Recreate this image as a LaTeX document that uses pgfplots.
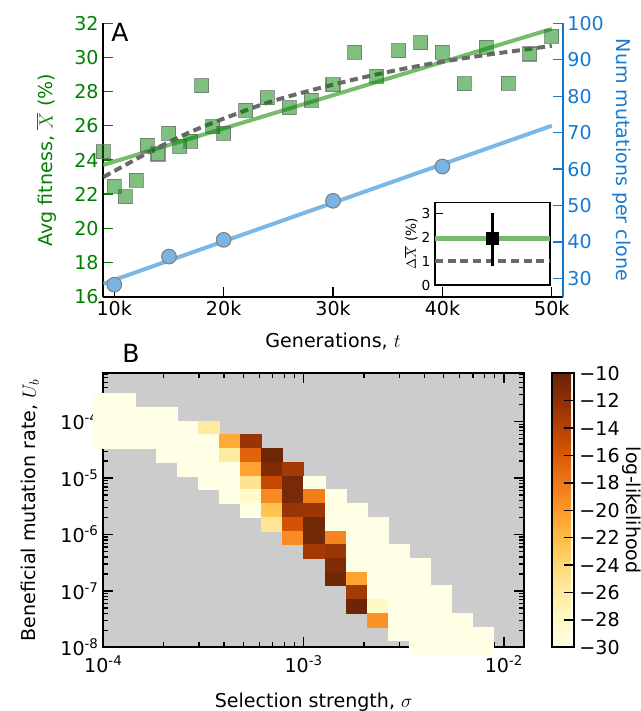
\documentclass[border=0pt]{standalone}
\usepackage{pgfplots}
\pgfplotsset{compat=1.18}
\usepackage{pgfplotstable}
\usepackage{fontspec}
\setmainfont{DejaVu Sans}

\definecolor{fitgreen}{RGB}{0,128,0}
\definecolor{sqedge}{RGB}{100,110,100}
\definecolor{linegreen}{RGB}{118,188,108}
\definecolor{numblue}{RGB}{22,122,208}
\definecolor{ptblue}{RGB}{122,180,228}
\definecolor{lineblue}{RGB}{124,184,230}
\definecolor{dashgray}{RGB}{105,105,105}
\definecolor{bggray}{RGB}{204,204,204}

% one heat-map cell (0.105 decade by 0.243 decade)
\pgfdeclareplotmark{cell}{%
  \pgfpathrectangle{\pgfpoint{-7.905pt}{-5.145pt}}{\pgfpoint{15.81pt}{10.29pt}}%
  \pgfusepathqfillstroke}

% panel A: average fitness of clones
\pgfplotstableread{
gen fit
9000 24.47
10000 22.45
11000 21.85
12000 22.80
13000 24.85
14000 24.35
15000 25.55
16000 24.80
17000 25.10
18000 28.35
19000 25.95
20000 25.55
22000 26.90
24000 27.65
26000 27.05
28000 27.50
30000 28.40
32000 30.30
34000 28.90
36000 30.40
38000 30.85
40000 30.30
42000 28.45
44000 30.60
46000 28.50
48000 30.20
50000 31.25
}\fitness

% dashed model curve
\pgfplotstableread{
gen fit
9000 23.00
10000 23.35
11000 23.70
12000 24.05
13000 24.40
15000 25.05
17000 25.65
20000 26.42
24000 27.35
28000 28.08
32000 28.72
36000 29.28
40000 29.75
44000 30.15
48000 30.50
50000 30.68
}\fitcurve

% mutations per clone
\pgfplotstableread{
gen num
10000 28.3
15000 36.0
20000 40.6
30000 51.3
40000 60.7
}\mutations

% panel B: log-likelihood grid (sigma, U_b, value)
\pgfplotstableread{
s u ll
1.000e-4 2.390e-4 -30
1.274e-4 2.390e-4 -30
1.000e-4 1.365e-4 -30
1.274e-4 1.365e-4 -30
1.624e-4 1.365e-4 -30
2.069e-4 1.365e-4 -30
1.000e-4 7.797e-5 -30
1.274e-4 7.797e-5 -30
1.624e-4 7.797e-5 -30
2.069e-4 7.797e-5 -30
2.637e-4 7.797e-5 -30
3.360e-4 7.797e-5 -26
1.000e-4 4.453e-5 -30
1.274e-4 4.453e-5 -30
1.624e-4 4.453e-5 -30
2.069e-4 4.453e-5 -30
2.637e-4 4.453e-5 -30
3.360e-4 4.453e-5 -30
4.281e-4 4.453e-5 -21
5.456e-4 4.453e-5 -12.5
2.069e-4 2.543e-5 -30
2.637e-4 2.543e-5 -30
3.360e-4 2.543e-5 -30
4.281e-4 2.543e-5 -26
5.456e-4 2.543e-5 -16.5
6.952e-4 2.543e-5 -10.3
2.637e-4 1.453e-5 -30
3.360e-4 1.453e-5 -30
4.281e-4 1.453e-5 -30
5.456e-4 1.453e-5 -20.5
6.952e-4 1.453e-5 -11.2
8.859e-4 1.453e-5 -13
3.360e-4 8.297e-6 -30
4.281e-4 8.297e-6 -30
5.456e-4 8.297e-6 -25
6.952e-4 8.297e-6 -14.7
8.859e-4 8.297e-6 -10.8
1.129e-3 8.297e-6 -30
4.281e-4 4.739e-6 -30
5.456e-4 4.739e-6 -28.3
6.952e-4 4.739e-6 -19
8.859e-4 4.739e-6 -10.8
1.129e-3 4.739e-6 -18.3
1.438e-3 4.739e-6 -30
5.456e-4 2.707e-6 -30
6.952e-4 2.707e-6 -22.5
8.859e-4 2.707e-6 -12.5
1.129e-3 2.707e-6 -12.7
1.438e-3 2.707e-6 -30
1.833e-3 2.707e-6 -30
6.952e-4 1.546e-6 -25.3
8.859e-4 1.546e-6 -15.5
1.129e-3 1.546e-6 -10.6
1.438e-3 1.546e-6 -30
1.833e-3 1.546e-6 -30
2.336e-3 1.546e-6 -30
8.859e-4 8.829e-7 -19.2
1.129e-3 8.829e-7 -10.6
1.438e-3 8.829e-7 -18.8
1.833e-3 8.829e-7 -30
2.336e-3 8.829e-7 -30
1.129e-3 5.043e-7 -13
1.438e-3 5.043e-7 -12.6
1.833e-3 5.043e-7 -30
2.336e-3 5.043e-7 -30
2.976e-3 5.043e-7 -30
1.438e-3 2.880e-7 -11.2
1.833e-3 2.880e-7 -30
2.336e-3 2.880e-7 -30
2.976e-3 2.880e-7 -30
3.793e-3 2.880e-7 -30
1.438e-3 1.645e-7 -10.5
1.833e-3 1.645e-7 -20.5
2.336e-3 1.645e-7 -30
2.976e-3 1.645e-7 -30
3.793e-3 1.645e-7 -30
1.833e-3 9.397e-8 -13
2.336e-3 9.397e-8 -30
2.976e-3 9.397e-8 -30
3.793e-3 9.397e-8 -30
4.833e-3 9.397e-8 -30
1.833e-3 5.367e-8 -10.2
2.336e-3 5.367e-8 -28
2.976e-3 5.367e-8 -30
3.793e-3 5.367e-8 -30
4.833e-3 5.367e-8 -30
2.336e-3 3.065e-8 -19.5
2.976e-3 3.065e-8 -30
3.793e-3 3.065e-8 -30
4.833e-3 3.065e-8 -30
6.158e-3 3.065e-8 -30
2.976e-3 1.751e-8 -30
3.793e-3 1.751e-8 -30
4.833e-3 1.751e-8 -30
6.158e-3 1.751e-8 -30
7.848e-3 1.751e-8 -30
3.793e-3 1.000e-8 -30
4.833e-3 1.000e-8 -30
6.158e-3 1.000e-8 -30
7.848e-3 1.000e-8 -30
}\loglik

\begin{document}
\begin{tikzpicture}[font=\fontsize{14.3}{17}\selectfont]
\useasboundingbox (0,0) rectangle (480.75pt,-533.25pt);

% ---- panel A, fitness (left axis)
\begin{axis}[
  at={(77.5pt,-222.5pt)}, anchor=south west,
  width=344.55pt, height=205.05pt, scale only axis,
  xmin=9000, xmax=51000, ymin=16, ymax=32,
  axis x line*=bottom, axis y line*=left,
  axis line style={-, line width=1.5pt, black},
  xtick={10000,20000,30000,40000,50000},
  xticklabels={10k,20k,30k,40k,50k},
  scaled x ticks=false,
  ytick={16,18,...,32},
  tick align=inside, major tick length=7.5pt,
  ytick style={fitgreen, line width=1pt},
  xtick style={black, line width=1pt},
  yticklabel style={text=fitgreen},
  /pgf/number format/assume math mode=true,
  xlabel={Generations, $t$},
  ylabel={Avg fitness, $\overline{X}$ (\%)},
  ylabel style={text=fitgreen, at={(axis description cs:-0.123,0.5)}, anchor=center},
  xlabel style={at={(axis description cs:0.5,-0.162)}, anchor=center},
  clip mode=individual,
]
\addplot[linegreen, line width=3pt] coordinates {(9000,23.71) (50000,31.67)};
\addplot[dashgray, line width=3pt, dash pattern=on 6pt off 3.5pt, smooth] table[x=gen,y=fit] {\fitcurve};
\addplot[only marks, mark=square*, mark size=5.25pt,
  mark options={fill=fitgreen, fill opacity=0.5, draw=sqedge, draw opacity=0.7, line width=0.8pt}]
  table[x=gen,y=fit] {\fitness};
\end{axis}

% ---- panel A, mutations (right axis)
\begin{axis}[
  at={(77.5pt,-222.5pt)}, anchor=south west,
  width=344.55pt, height=205.05pt, scale only axis,
  xmin=9000, xmax=51000, ymin=25, ymax=100,
  axis x line=none, axis y line*=right,
  scaled x ticks=false,
  axis line style={-, line width=1.5pt, numblue},
  ytick={30,40,...,100},
  tick align=inside, major tick length=7.5pt,
  ytick style={numblue, line width=1pt},
  yticklabel style={text=numblue},
  /pgf/number format/assume math mode=true,
  ylabel={Num mutations per clone},
  ylabel style={text=numblue, at={(axis description cs:1.128,0.5)}, anchor=center, rotate=180},
  clip mode=individual,
]
\addplot[lineblue, line width=3pt] coordinates {(9000,28.55) (50000,71.9)};
\addplot[only marks, mark=*, mark size=5.5pt,
  mark options={fill=ptblue, draw=gray, line width=0.8pt}]
  table[x=gen,y=num] {\mutations};
\end{axis}

% ---- inset
\begin{axis}[
  at={(326.25pt,-213.75pt)}, anchor=south west,
  width=86.25pt, height=61.9pt, scale only axis,
  xmin=0, xmax=1, ymin=0, ymax=3.45,
  xtick=\empty, ytick={0,1,2,3}, ytick pos=left,
  tick align=inside, major tick length=6pt,
  axis line style={line width=1.2pt},
  tick style={black, line width=0.9pt},
  tick label style={font=\fontsize{10.3}{12}\selectfont},
  label style={font=\fontsize{10.3}{12}\selectfont},
  /pgf/number format/assume math mode=true,
  ylabel={$\Delta\overline{X}$ (\%)},
  ylabel style={at={(axis description cs:-0.21,0.5)}, anchor=center},
  axis background/.style={fill=white},
]
\addplot[linegreen, line width=3.5pt] coordinates {(0,1.95) (1,1.95)};
\addplot[dashgray, line width=3pt, dash pattern=on 6pt off 3.5pt] coordinates {(0,1.0) (1,1.0)};
\addplot[black, line width=2pt, mark=square*, mark size=4pt,
  error bars/.cd, y dir=both, y explicit, error mark=none,
  error bar style={line width=2pt}]
  coordinates {(0.5,1.95) += (0,1.05) -= (0,1.15)};
\end{axis}

% ---- panel B
\begin{axis}[
  at={(77.5pt,-485.5pt)}, anchor=south west,
  width=315.5pt, height=205.5pt, scale only axis,
  xmode=log, ymode=log,
  xmin=1e-4, xmax=1.2589e-2, ymin=1e-8, ymax=7.194e-4,
  axis background/.style={fill=bggray},
  axis line style={line width=1.5pt},
  tick align=inside, major tick length=7.5pt, minor tick length=3.75pt,
  tick style={black, line width=1pt},
  log number format basis/.code 2 args={#1\textsuperscript{\pgfmathprintnumber[assume math mode=true]{#2}}},
  xticklabel shift=3pt,
  xlabel={Selection strength, $\sigma$},
  ylabel={Beneficial mutation rate, $U_b$},
  xlabel style={at={(axis description cs:0.5,-0.2)}, anchor=center},
  ylabel style={at={(axis description cs:-0.174,0.5)}, anchor=center},
  colormap={ylorbr}{rgb255=(255,255,229) rgb255=(255,247,188) rgb255=(254,227,145)
    rgb255=(254,196,79) rgb255=(254,153,41) rgb255=(236,112,20) rgb255=(204,76,2)
    rgb255=(153,52,4) rgb255=(102,37,6)},
  point meta min=-30, point meta max=-10,
  colorbar,
  colorbar style={
    at={(parent axis.north east)}, anchor=north west, xshift=12.5pt,
    width=16.5pt, height=205.5pt, scale only axis,
    ytick={-30,-28,...,-10},
    yticklabels={−30,−28,−26,−24,−22,−20,−18,−16,−14,−12,−10},
    ytick pos=right, tick align=inside, major tick length=7.5pt,
    tick style={black, line width=1pt},
    yticklabel shift=0.5pt,
    axis line style={line width=1.5pt},
    ylabel={log-likelihood},
    ylabel style={at={(axis description cs:3.64,0.5)}, anchor=center, rotate=180},
  },
  clip mode=individual,
]
\addplot[scatter, only marks, mark=cell, mark options={line width=0.3pt},
  scatter/use mapped color={draw=mapped color, fill=mapped color},
  point meta=explicit]
  table[x=s, y=u, meta=ll] {\loglik};
\end{axis}

\node[font=\fontsize{18.8}{22}\selectfont] at (90pt,-24pt) {A};
\node[font=\fontsize{18.8}{22}\selectfont] at (98.25pt,-264.75pt) {B};
\end{tikzpicture}
\end{document}
